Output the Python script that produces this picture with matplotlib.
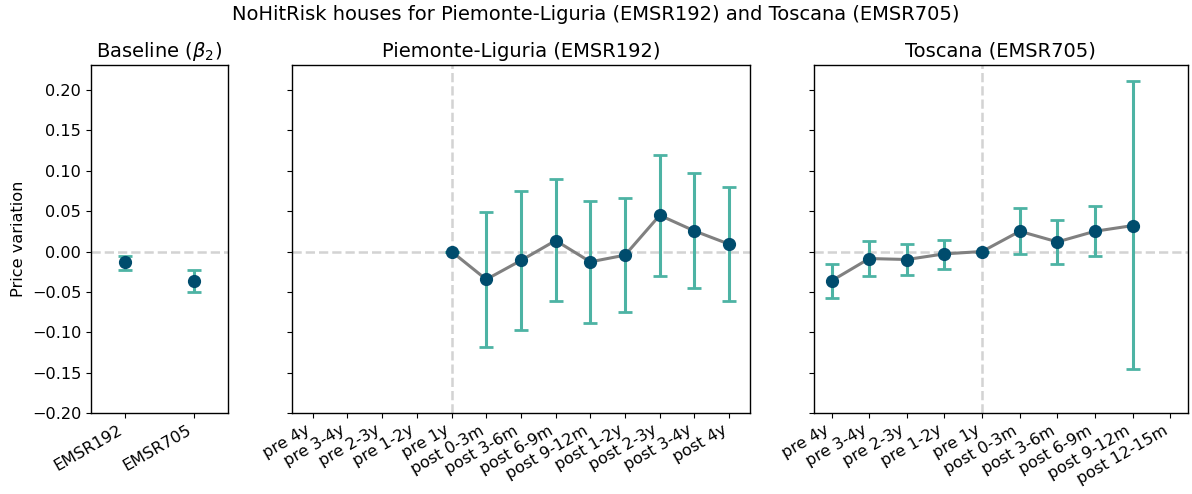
import numpy as np
import matplotlib
matplotlib.use("Agg")
import matplotlib.pyplot as plt

nan = np.nan

# Baseline coefficients
base_labels = ["EMSR192", "EMSR705"]
base_coef = [-0.0136, -0.037]
base_low = [-0.0226, -0.0506]
base_high = [-0.005, -0.0226]

# Piemonte-Liguria (EMSR192)
pl_labels = ["pre 4y", "pre 3-4y", "pre 2-3y", "pre 1-2y", "pre 1y",
             "post 0-3m", "post 3-6m", "post 6-9m", "post 9-12m",
             "post 1-2y", "post 2-3y", "post 3-4y", "post 4y"]
pl_coef = [nan, nan, nan, nan, 0.0, -0.0346, -0.0111, 0.0136, -0.0128,
           -0.0045, 0.0449, 0.0255, 0.0091]
pl_low = [nan, nan, nan, nan, 0.0, -0.118, -0.0977, -0.0618, -0.0882,
          -0.0754, -0.030, -0.0457, -0.0618]
pl_high = [nan, nan, nan, nan, 0.0, 0.049, 0.0754, 0.0894, 0.0626,
           0.0663, 0.120, 0.0972, 0.080]

# Toscana (EMSR705)
to_labels = ["pre 4y", "pre 3-4y", "pre 2-3y", "pre 1-2y", "pre 1y",
             "post 0-3m", "post 3-6m", "post 6-9m", "post 9-12m", "post 12-15m"]
to_coef = [-0.0363, -0.0087, -0.0099, -0.0029, 0.0, 0.0251, 0.0119, 0.0251, 0.0321, nan]
to_low = [-0.0573, -0.0309, -0.0293, -0.0214, 0.0, -0.0037, -0.0157, -0.0058, -0.146, nan]
to_high = [-0.0157, 0.0132, 0.0095, 0.0148, 0.0, 0.0544, 0.0391, 0.056, 0.211, nan]

teal = "#4db3a4"
dark = "#004c6d"

plt.rcParams["font.size"] = 11.6
plt.rcParams["axes.linewidth"] = 1.0

fig, axes = plt.subplots(1, 3, figsize=(11.92, 4.94), dpi=100, sharey=True,
                         gridspec_kw={"width_ratios": [137, 458, 374]})
fig.subplots_adjust(left=0.0763, right=0.9966, top=0.8684, bottom=0.164, wspace=0.198)


def draw(ax, labels, coef, low, high, line=True):
    x = np.arange(len(labels))
    coef = np.array(coef, dtype=float)
    err = [coef - np.array(low, dtype=float), np.array(high, dtype=float) - coef]
    ax.axhline(0, color="lightgray", linestyle="--", lw=1.8, zorder=0)
    ax.errorbar(x, coef, yerr=err, fmt="none", ecolor=teal, elinewidth=2.2,
                capsize=5, capthick=2, zorder=2)
    if line:
        ax.plot(x, coef, color="gray", lw=2.2, zorder=3)
    ax.plot(x, coef, "o", color=dark, markersize=8.5, zorder=4)
    ax.set_xticks(x)
    ax.set_xticklabels(labels, rotation=30, ha="right")


ax = axes[0]
draw(ax, base_labels, base_coef, base_low, base_high, line=False)
ax.set_xlim(-0.5, 1.5)
ax.set_title(r"Baseline ($\beta_2$)", fontsize=14)
ax.set_ylabel("Price variation")

ax = axes[1]
draw(ax, pl_labels, pl_coef, pl_low, pl_high)
ax.axvline(4, color="lightgray", linestyle="--", lw=1.8, zorder=0)
ax.set_xlim(-0.6, 12.6)
ax.set_title("Piemonte-Liguria (EMSR192)", fontsize=14)

ax = axes[2]
draw(ax, to_labels, to_coef, to_low, to_high)
ax.axvline(4, color="lightgray", linestyle="--", lw=1.8, zorder=0)
ax.set_xlim(-0.47, 9.47)
ax.set_title("Toscana (EMSR705)", fontsize=14)

axes[0].set_ylim(-0.20, 0.231)
axes[0].set_yticks(np.arange(-0.20, 0.21, 0.05))

fig.suptitle("NoHitRisk houses for Piemonte-Liguria (EMSR192) and Toscana (EMSR705)",
             fontsize=14, y=0.99)
fig.savefig("out.png", dpi=100)
